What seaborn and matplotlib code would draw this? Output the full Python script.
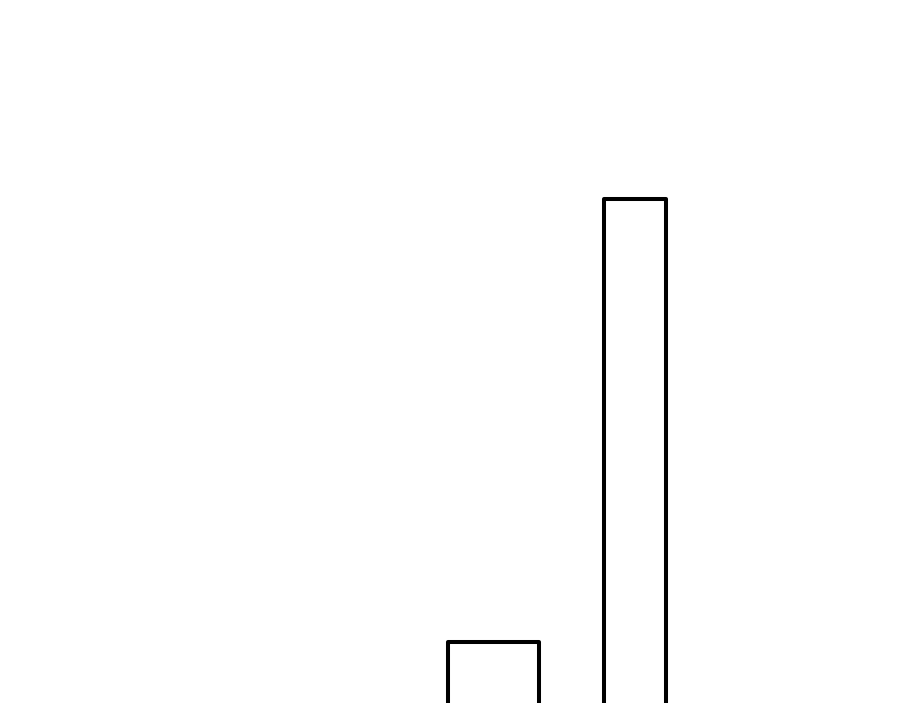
import matplotlib
matplotlib.use("Agg")
import matplotlib.pyplot as plt
import seaborn as sns

# two outlined bars, no axes
labels = ["A", "B"]
values = [2, 9]
centers = [493.5, 635]
widths = [91, 62]

sns.set_style("white")
fig = plt.figure(figsize=(9, 7.03), dpi=100)
ax = fig.add_axes([0, 0, 1, 1])

for c, v, w in zip(centers, values, widths):
    sns.barplot(x=[c], y=[v], native_scale=True, width=w, fill=False,
                color="black", linewidth=2.9, ax=ax)

for p in ax.patches:
    p.set_joinstyle("round")
    p.set_edgecolor("black")

ax.set_xlim(0, 900)
ax.set_ylim(1.04, 12.14)
ax.axis("off")
fig.savefig("out.png", dpi=100, facecolor="white")
